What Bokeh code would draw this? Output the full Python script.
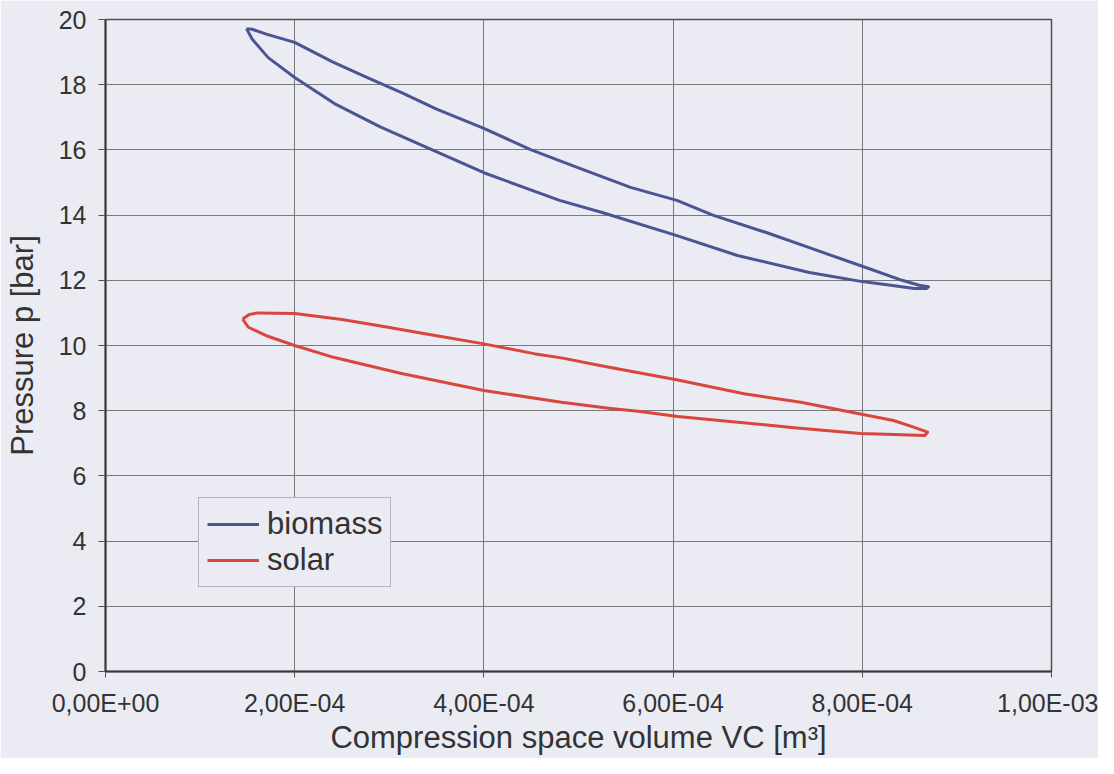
import numpy as np
from bokeh.plotting import figure
from bokeh.models import Range1d, FixedTicker, Legend, LegendItem
from bokeh.embed import file_html
from bokeh.resources import INLINE

# ---- data (compression space volume in units of 1e-4 m^3, pressure in bar) ----
biomass_vc_e4 = [1.49, 1.55, 1.70, 2.00, 2.40, 2.78, 3.13, 3.50, 4.00, 4.50, 5.00, 5.55,
                 6.04, 6.42, 7.00, 7.44, 8.03, 8.42, 8.60, 8.70, 8.68, 8.55, 8.30, 8.00,
                 7.44, 6.68, 6.04, 5.25, 4.80, 4.00, 3.40, 2.91, 2.42, 2.00, 1.72, 1.55, 1.49]
biomass_p = [19.72, 19.70, 19.55, 19.30, 18.70, 18.20, 17.76, 17.25, 16.66, 16.00, 15.45, 14.85,
             14.45, 14.00, 13.45, 13.00, 12.40, 12.00, 11.85, 11.80, 11.75, 11.75, 11.85, 11.96,
             12.24, 12.76, 13.37, 14.08, 14.45, 15.30, 16.07, 16.70, 17.42, 18.22, 18.83, 19.40, 19.72]

solar_vc_e4 = [1.45, 1.52, 1.61, 2.00, 2.50, 2.91, 3.50, 4.00, 4.53, 4.82, 5.24, 6.05, 6.75,
               7.35, 7.98, 8.33, 8.55, 8.69, 8.66, 8.33, 7.98, 7.28, 6.05, 5.63, 5.34, 4.82,
               4.00, 3.13, 2.42, 2.00, 1.70, 1.51, 1.45]
solar_p = [10.81, 10.95, 11.00, 10.98, 10.80, 10.60, 10.30, 10.05, 9.75, 9.62, 9.38, 8.94, 8.52,
           8.26, 7.90, 7.70, 7.49, 7.34, 7.24, 7.27, 7.30, 7.48, 7.82, 7.98, 8.07, 8.26,
           8.62, 9.14, 9.63, 10.00, 10.30, 10.56, 10.81]

x_ticks = [0.0, 0.0002, 0.0004, 0.0006, 0.0008, 0.001]
x_tick_labels = ["0,00E+00", "2,00E-04", "4,00E-04", "6,00E-04", "8,00E-04", "1,00E-03"]
y_ticks = [0, 2, 4, 6, 8, 10, 12, 14, 16, 18, 20]

series_names = ["biomass", "solar"]
series_colors = ["#4a5594", "#d8463e"]

BG = "#ebebf3"
FONT = "Liberation Sans"

p = figure(width=1098, height=758, output_backend="svg", toolbar_location=None,
           x_range=Range1d(0, 0.001), y_range=Range1d(0, 20),
           min_border_left=105, min_border_right=47, min_border_top=19, min_border_bottom=87,
           background_fill_color=BG, border_fill_color=BG)

p.outline_line_color = "#505050"
p.outline_line_width = 1.5

p.xaxis.ticker = FixedTicker(ticks=x_ticks)
p.xaxis.major_label_overrides = {t: l for t, l in zip(x_ticks, x_tick_labels)}
p.yaxis.ticker = FixedTicker(ticks=y_ticks)
p.xaxis.minor_tick_line_color = None
p.yaxis.minor_tick_line_color = None

for ax in (p.xaxis[0], p.yaxis[0]):
    ax.axis_line_color = "#383838"
    ax.axis_line_width = 2
    ax.major_tick_line_color = "#505050"
    ax.major_tick_line_width = 1
    ax.major_tick_in = 0
    ax.major_tick_out = 7
    ax.major_label_text_font = FONT
    ax.major_label_text_font_size = "25px"
    ax.major_label_text_color = "#333333"
    ax.axis_label_text_font = FONT
    ax.axis_label_text_font_size = "31px"
    ax.axis_label_text_font_style = "normal"
    ax.axis_label_text_color = "#333333"

p.xaxis.axis_label = "Compression space volume VC [m³]"
p.yaxis.axis_label = "Pressure p [bar]"
p.xaxis.major_tick_out = 6
p.xaxis.major_label_standoff = 11
p.xaxis.axis_label_standoff = 0
p.yaxis.major_label_standoff = 12
p.yaxis.axis_label_standoff = 16

p.xgrid.ticker = FixedTicker(ticks=x_ticks)
p.ygrid.ticker = FixedTicker(ticks=y_ticks)
p.grid.grid_line_color = "#7a7a7a"
p.grid.grid_line_width = 1

r_bio = p.line(np.array(biomass_vc_e4) * 1e-4, biomass_p, line_color=series_colors[0],
               line_width=3, line_join="round")
r_sol = p.line(np.array(solar_vc_e4) * 1e-4, solar_p, line_color=series_colors[1],
               line_width=3, line_join="round")

legend = Legend(items=[LegendItem(label=series_names[0], renderers=[r_bio]),
                       LegendItem(label=series_names[1], renderers=[r_sol])],
                location=(93, 84))
legend.label_text_font = FONT
legend.label_text_font_size = "31px"
legend.label_text_color = "#333333"
legend.background_fill_color = BG
legend.background_fill_alpha = 1
legend.border_line_color = "#808080"
legend.border_line_width = 1
legend.glyph_width = 52
legend.label_standoff = 8
legend.padding = 8
legend.spacing = 0
legend.margin = 0
p.add_layout(legend)

open("out.html", "w").write(file_html(p, INLINE))
